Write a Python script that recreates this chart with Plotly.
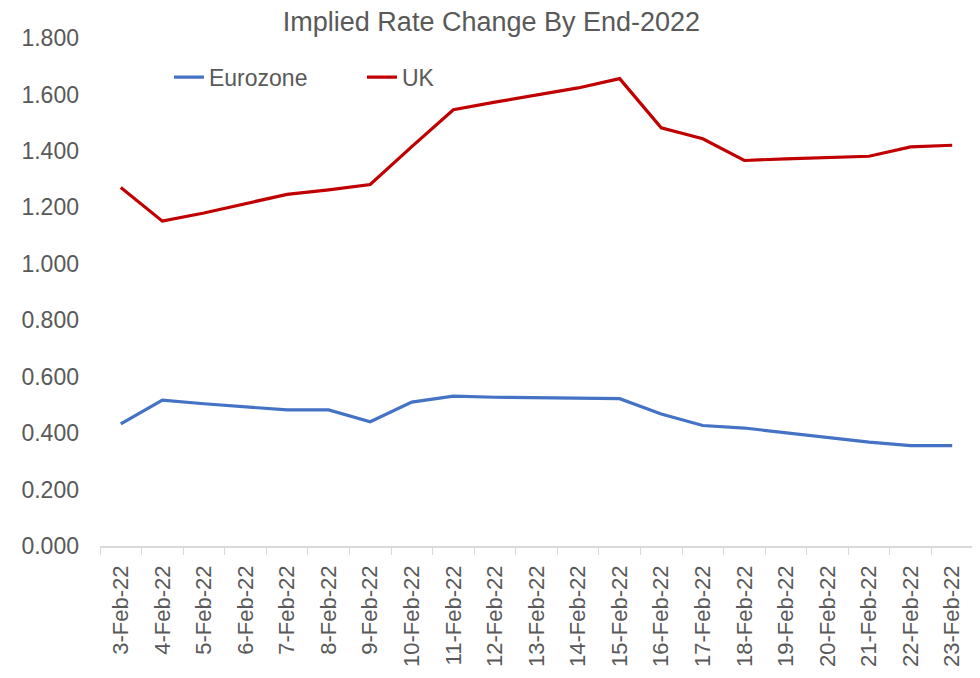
import plotly.graph_objects as go

dates = ["3-Feb-22", "4-Feb-22", "5-Feb-22", "6-Feb-22", "7-Feb-22", "8-Feb-22", "9-Feb-22",
         "10-Feb-22", "11-Feb-22", "12-Feb-22", "13-Feb-22", "14-Feb-22", "15-Feb-22",
         "16-Feb-22", "17-Feb-22", "18-Feb-22", "19-Feb-22", "20-Feb-22", "21-Feb-22",
         "22-Feb-22", "23-Feb-22"]
eurozone = [0.433, 0.517, 0.504, 0.492, 0.482, 0.482, 0.440, 0.510, 0.531, 0.527, 0.525,
            0.522, 0.522, 0.468, 0.427, 0.418, 0.401, 0.383, 0.368, 0.356, 0.356]
uk = [1.270, 1.151, 1.180, 1.212, 1.246, 1.262, 1.281, 1.415, 1.546, 1.573, 1.597,
      1.623, 1.656, 1.482, 1.443, 1.366, 1.372, 1.376, 1.381, 1.414, 1.420]
y_ticks = [0, 0.2, 0.4, 0.6, 0.8, 1.0, 1.2, 1.4, 1.6, 1.8]

gray = "#595959"
font = "Liberation Sans, Arial, sans-serif"

fig = go.Figure()
fig.add_trace(go.Scatter(x=dates, y=eurozone, mode="lines", name="Eurozone",
                         line=dict(color="#4472C4", width=3.2)))
fig.add_trace(go.Scatter(x=dates, y=uk, mode="lines", name="UK",
                         line=dict(color="#C00000", width=3.2)))

fig.update_layout(
    width=972, height=670,
    margin=dict(l=92, r=7, t=30, b=132),
    paper_bgcolor="white", plot_bgcolor="white",
    font=dict(family=font, color=gray, size=23),
    title=dict(text="Implied Rate Change By End-2022", x=0.4974, xanchor="center",
               xref="container", y=0.994, yanchor="top", pad=dict(t=0, b=0),
               font=dict(size=27, color=gray)),
    showlegend=True,
    legend=dict(orientation="h", x=0.079, xanchor="left", y=0.923, yanchor="middle",
                font=dict(size=23, color=gray), entrywidth=148, entrywidthmode="pixels",
                bgcolor="rgba(0,0,0,0)"),
    xaxis=dict(type="category", showgrid=False, showline=True, linecolor="#D9D9D9",
               linewidth=1.5, ticks="outside", tickson="boundaries", ticklen=7,
               tickcolor="#D9D9D9", tickangle=-90, tickfont=dict(size=22, color=gray),
               ticklabelstandoff=9, range=[-0.5, 20.5], automargin=False),
    yaxis=dict(range=[0, 1.8], tickvals=y_ticks, tickformat=".3f", showgrid=False,
               zeroline=False, showline=False, tickfont=dict(size=23, color=gray),
               ticklabelstandoff=20, automargin=False),
)

fig.write_html("out.html")
